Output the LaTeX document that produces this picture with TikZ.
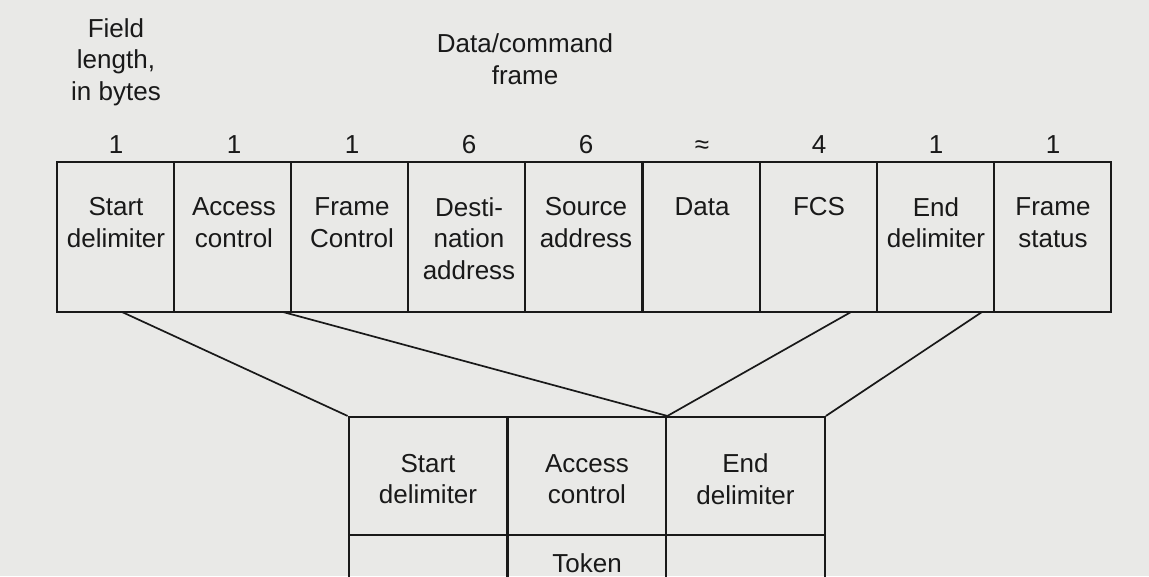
\documentclass[tikz,border=0pt]{standalone}
\usepackage{fontspec}
\setmainfont{Liberation Sans}
\definecolor{paper}{RGB}{233,233,231}
\definecolor{ink}{RGB}{25,25,25}
\begin{document}
\begin{tikzpicture}[x=1pt,y=-1pt,
  lbl/.style={align=center,font=\fontsize{26}{31.5}\selectfont,text=ink,inner sep=0pt},
  cell/.style={draw=ink,line width=2.1pt,rectangle,inner sep=0pt,minimum width=117.1pt,minimum height=150pt},
  tcell/.style={draw=ink,line width=2.1pt,rectangle,inner sep=0pt,minimum width=158.7pt},
  conn/.style={draw=ink,line width=1.7pt}]
\useasboundingbox (0,0) rectangle (1149,576);
\clip (0,0) rectangle (1149,576);
\fill[paper] (0,0) rectangle (1149,576);

% headings
\node[lbl] (fieldlen) at (116,62) {Field\\length,\\in bytes};
\node[lbl] (dataframe) at (525,59) {Data/command\\frame};

% top frame cells
\foreach \i in {1,...,9}
  \node[cell] (c\i) at ({57+117.1*(\i-0.5)},237) {};

% field lengths
\node[lbl] (n1) at (116,145) {1};
\node[lbl] (n2) at (234,145) {1};
\node[lbl] (n3) at (352,145) {1};
\node[lbl] (n4) at (469,145) {6};
\node[lbl] (n5) at (586,145) {6};
\node[lbl] (n6) at (702,147) {≈};
\node[lbl] (n7) at (819,145) {4};
\node[lbl] (n8) at (936,145) {1};
\node[lbl] (n9) at (1053,145) {1};

% cell labels
\node[lbl] (l1) at (116,222.5) {Start\\delimiter};
\node[lbl] (l2) at (234,222.5) {Access\\control};
\node[lbl] (l3) at (352,222.5) {Frame\\Control};
\node[lbl] (l4) at (469,238.5) {Desti-\\nation\\address};
\node[lbl] (l5) at (586,222.5) {Source\\address};
\node[lbl] (l6) at (702,206.5) {Data};
\node[lbl] (l7) at (819,206.5) {FCS};
\node[lbl] (l8) at (936,222.5) {End\\delimiter};
\node[lbl] (l9) at (1053,222.5) {Frame\\status};

% token frame
\node[tcell,minimum height=118pt] (tk1) at (428,476) {};
\node[tcell,minimum height=118pt] (tk2) at (587,476) {};
\node[tcell,minimum height=118pt] (tk3) at (745.5,476) {};
\node[tcell,minimum height=105pt] (tb1) at (428,587.5) {};
\node[tcell,minimum height=105pt] (tb2) at (587,587.5) {};
\node[tcell,minimum height=105pt] (tb3) at (745.5,587.5) {};

\node[lbl] (s1) at (428,479) {Start\\delimiter};
\node[lbl] (s2) at (587,479) {Access\\control};
\node[lbl] (s3) at (745.5,479) {End\\delimiter};
\node[lbl] (tok) at (587,563) {Token};

% connectors
\coordinate (p1) at (122,312);
\coordinate (p2) at (283,312);
\coordinate (p3) at (851,312);
\coordinate (p4) at (982,312);
\draw[conn] (p1) -- (tk1.north west);
\draw[conn] (p2) -- (tk2.north east);
\draw[conn] (p3) -- (tk2.north east);
\draw[conn] (p4) -- (tk3.north east);
\end{tikzpicture}
\end{document}
